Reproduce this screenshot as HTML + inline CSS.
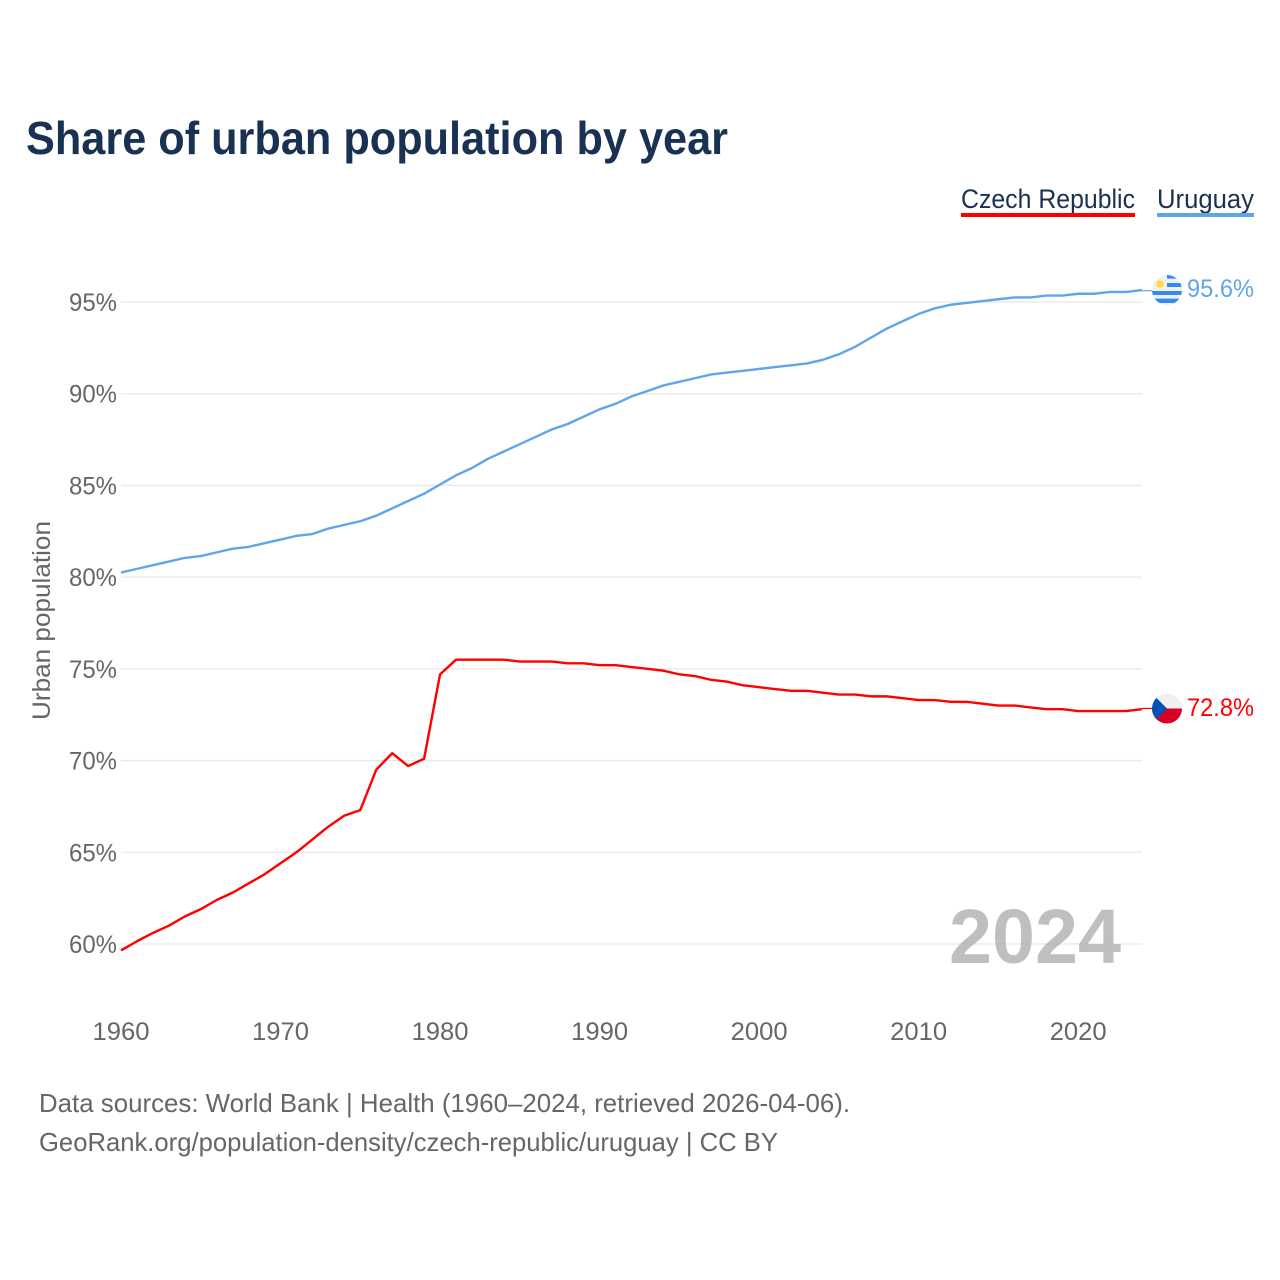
<!DOCTYPE html>
<html lang="en">
<head>
<meta charset="utf-8">
<title>Share of urban population by year</title>
<style>
html,body{margin:0;padding:0;background:#fff;width:1280px;height:1280px;overflow:hidden}
svg{display:block}
text{font-family:"Liberation Sans",sans-serif}
</style>
</head>
<body>
<svg id="chart" xmlns="http://www.w3.org/2000/svg" width="1280" height="1280" viewBox="0 0 1280 1280">
  <rect width="1280" height="1280" fill="#fff"/>
  <text x="26" y="154" font-size="46" font-weight="700" fill="#193152" textLength="702" lengthAdjust="spacingAndGlyphs">Share of urban population by year</text>

  <g>
    <text x="961" y="208" font-size="27" fill="#193152" textLength="174" lengthAdjust="spacingAndGlyphs">Czech Republic</text>
    <rect x="961" y="213" width="174" height="4" fill="#ff0000"/>
  </g>
  <g>
    <text x="1157" y="208" font-size="27" fill="#193152" textLength="97" lengthAdjust="spacingAndGlyphs">Uruguay</text>
    <rect x="1157" y="213" width="97" height="4" fill="#60a5ec"/>
  </g>

  <g id="grid"></g>
  <g id="yticks"></g>
  <g id="xticks"></g>

  <text transform="translate(50,720) rotate(-90)" font-size="25" fill="#666" textLength="199" lengthAdjust="spacingAndGlyphs">Urban population</text>

  <text x="949" y="963" font-size="77" font-weight="700" fill="#a6a6a6" fill-opacity="0.72" textLength="172" lengthAdjust="spacingAndGlyphs">2024</text>

  <g id="series"></g>

  <line x1="1142" y1="290.7" x2="1153" y2="290.7" stroke="#60a5ec" stroke-width="1.2"/>
  <line x1="1142" y1="708.4" x2="1153" y2="708.4" stroke="#ff0000" stroke-width="1.2"/>

  <defs>
    <clipPath id="clip-uy"><circle cx="1167" cy="290" r="15"/></clipPath>
    <clipPath id="clip-cz"><circle cx="1167" cy="708.5" r="15"/></clipPath>
  </defs>
  <g clip-path="url(#clip-uy)">
    <rect x="1152" y="275" width="30" height="30" fill="#f0f0f0"/>
    <rect x="1167" y="275" width="15" height="3.6" fill="#338af3"/>
    <rect x="1167" y="283" width="15" height="4" fill="#338af3"/>
    <rect x="1152" y="291" width="30" height="4" fill="#338af3"/>
    <rect x="1152" y="298.6" width="30" height="4.4" fill="#338af3"/>
    <circle cx="1160" cy="284" r="3.8" fill="#ffda44"/>
  </g>
  <g clip-path="url(#clip-cz)">
    <rect x="1152" y="693.5" width="30" height="15" fill="#f0f0f0"/>
    <rect x="1152" y="708.5" width="30" height="15" fill="#d80027"/>
    <polygon points="1152,693.5 1167,708.5 1152,723.5" fill="#0052b4"/>
  </g>

  <text x="1187" y="297" font-size="25" fill="#60a5ec" textLength="67" lengthAdjust="spacingAndGlyphs">95.6%</text>
  <text x="1187" y="716" font-size="25" fill="#ff0000" textLength="67" lengthAdjust="spacingAndGlyphs">72.8%</text>

  <text x="39" y="1112" font-size="26" fill="#666" textLength="811" lengthAdjust="spacingAndGlyphs">Data sources: World Bank | Health (1960–2024, retrieved 2026-04-06).</text>
  <a><text x="39" y="1151" font-size="26" fill="#666" textLength="739" lengthAdjust="spacingAndGlyphs">GeoRank.org/population-density/czech-republic/uruguay | CC BY</text></a>
</svg>
<script>
const firstYear = 1960;
const uruguayValues = [
  80.25,80.45,80.65,80.85,81.05,81.15,81.35,81.55,81.65,81.85,
  82.05,82.25,82.35,82.65,82.85,83.05,83.35,83.75,84.15,84.55,
  85.05,85.55,85.95,86.45,86.85,87.25,87.65,88.05,88.35,88.75,
  89.15,89.45,89.85,90.15,90.45,90.65,90.85,91.05,91.15,91.25,
  91.35,91.45,91.55,91.65,91.85,92.15,92.55,93.05,93.55,93.95,
  94.35,94.65,94.85,94.95,95.05,95.15,95.25,95.25,95.35,95.35,
  95.45,95.45,95.55,95.55,95.65
];
const czechValues = [
  59.65,60.15,60.6,61.0,61.5,61.9,62.4,62.8,63.3,63.8,
  64.4,65.0,65.7,66.4,67.0,67.3,69.5,70.4,69.7,70.1,
  74.7,75.5,75.5,75.5,75.5,75.4,75.4,75.4,75.3,75.3,
  75.2,75.2,75.1,75.0,74.9,74.7,74.6,74.4,74.3,74.1,
  74.0,73.9,73.8,73.8,73.7,73.6,73.6,73.5,73.5,73.4,
  73.3,73.3,73.2,73.2,73.1,73.0,73.0,72.9,72.8,72.8,
  72.7,72.7,72.7,72.7,72.8
];
const yTickValues = [60,65,70,75,80,85,90,95];
const yTickLabels = ['60%','65%','70%','75%','80%','85%','90%','95%'];
const xTickValues = [1960,1970,1980,1990,2000,2010,2020];
const xTickLabels = ['1960','1970','1980','1990','2000','2010','2020'];

const NS = 'http://www.w3.org/2000/svg';
function xScale(year){ return 121 + (year - 1960) * (1142 - 121) / 64; }
function yScale(v){ return 944 + (v - 60) * (302 - 944) / 35; }

const gridGroup = document.getElementById('grid');
const yGroup = document.getElementById('yticks');
const xGroup = document.getElementById('xticks');
const seriesGroup = document.getElementById('series');

yTickValues.forEach(function(v, i){
  const line = document.createElementNS(NS, 'line');
  
  
  line.setAttribute('x1', 121);
  line.setAttribute('x2', 1142);
  line.setAttribute('y1', yScale(v));
  line.setAttribute('y2', yScale(v));
  line.setAttribute('stroke', '#e8e8e8');
  line.setAttribute('stroke-width', '1.3');
  gridGroup.appendChild(line);

  const t = document.createElementNS(NS, 'text');
  
  
  t.setAttribute('x', 69);
  t.setAttribute('y', yScale(v) + 9);
  t.setAttribute('font-size', '25');
  t.setAttribute('fill', '#666');
  t.setAttribute('textLength', '48');
  t.setAttribute('lengthAdjust', 'spacingAndGlyphs');
  t.textContent = yTickLabels[i];
  yGroup.appendChild(t);
});

xTickValues.forEach(function(year, i){
  const t = document.createElementNS(NS, 'text');
  
  
  t.setAttribute('x', xScale(year) - 28.5);
  t.setAttribute('y', 1040);
  t.setAttribute('font-size', '25');
  t.setAttribute('fill', '#666');
  t.setAttribute('textLength', '57');
  t.setAttribute('lengthAdjust', 'spacingAndGlyphs');
  t.textContent = xTickLabels[i];
  xGroup.appendChild(t);
});

function pointsFor(values){
  return values.map(function(v, i){
    return xScale(firstYear + i).toFixed(2) + ',' + yScale(v).toFixed(2);
  }).join(' ');
}

const uruguayLine = document.createElementNS(NS, 'polyline');


uruguayLine.setAttribute('points', pointsFor(uruguayValues));
uruguayLine.setAttribute('fill', 'none');
uruguayLine.setAttribute('stroke', '#60a5ec');
uruguayLine.setAttribute('stroke-width', '2.4');
uruguayLine.setAttribute('stroke-linejoin', 'round');
seriesGroup.appendChild(uruguayLine);

const czechLine = document.createElementNS(NS, 'polyline');


czechLine.setAttribute('points', pointsFor(czechValues));
czechLine.setAttribute('fill', 'none');
czechLine.setAttribute('stroke', '#ff0000');
czechLine.setAttribute('stroke-width', '2.4');
czechLine.setAttribute('stroke-linejoin', 'round');
seriesGroup.appendChild(czechLine);
</script>
</body>
</html>
